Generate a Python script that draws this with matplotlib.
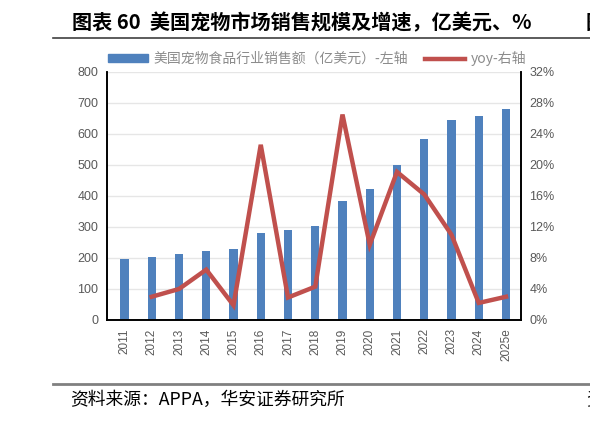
import matplotlib
matplotlib.use("Agg")
import matplotlib.pyplot as plt
from matplotlib.lines import Line2D
from matplotlib.patches import Patch

plt.rcParams['font.family'] = ['Noto Sans CJK SC', 'DejaVu Sans']

years = ["2011", "2012", "2013", "2014", "2015", "2016", "2017", "2018",
         "2019", "2020", "2021", "2022", "2023", "2024", "2025e"]
sales = [197, 203, 212, 224, 229, 282, 290, 302, 384, 421, 500, 583, 645, 659, 679]
yoy_years = years[1:]
yoy = [3.0, 4.0, 6.5, 1.9, 22.6, 2.9, 4.3, 26.5, 9.7, 19.1, 16.2, 11.0, 2.2, 3.0]

left_ticks = [0, 100, 200, 300, 400, 500, 600, 700, 800]
right_ticks = [0, 4, 8, 12, 16, 20, 24, 28, 32]

title = "图表 60  美国宠物市场销售规模及增速，亿美元、%"
source = "资料来源：APPA，华安证券研究所"
bar_label = "美国宠物食品行业销售额（亿美元）-左轴"
line_label = "yoy-右轴"

bar_color = "#4F81BD"
line_color = "#C0504D"
tick_color = "#595959"

fig = plt.figure(figsize=(5.9, 4.23), dpi=100)
ax = fig.add_axes([0.181, 0.2435, 0.702, 0.5865])
x = list(range(len(years)))
ax.bar(x, sales, width=0.3, color=bar_color, zorder=2)
ax.set_ylim(0, 800)
ax.set_xlim(-0.65, len(years) - 0.45)
ax.set_yticks(left_ticks)
ax.set_xticks(x)
ax.set_xticklabels(years, rotation=90, fontsize=8.5, color=tick_color, family=['Liberation Sans', 'DejaVu Sans'])
ax.tick_params(axis='y', labelsize=9, colors=tick_color, length=0, pad=6)
ax.tick_params(axis='x', length=0, pad=6)
for lab in ax.get_yticklabels():
    lab.set_family(['Liberation Sans', 'DejaVu Sans'])
ax.grid(axis='y', color='#E6E6E6', linewidth=1, zorder=0)
ax.set_axisbelow(True)
for s in ['left', 'bottom', 'right']:
    ax.spines[s].set_color('black')
    ax.spines[s].set_linewidth(1.2)
ax.spines['top'].set_visible(False)

ax2 = ax.twinx()
xi = [years.index(y) for y in yoy_years]
ax2.plot(xi, yoy, color=line_color, linewidth=3.2, zorder=3, solid_joinstyle='miter')
ax2.set_ylim(0, 32)
ax2.set_yticks(right_ticks)
ax2.set_yticklabels([f"{t}%" for t in right_ticks], family=['Liberation Sans', 'DejaVu Sans'])
ax2.tick_params(axis='y', labelsize=9, colors=tick_color, length=0, pad=6)
for s in ['left', 'bottom', 'right']:
    ax2.spines[s].set_color('black')
    ax2.spines[s].set_linewidth(1.2)
ax2.spines['top'].set_visible(False)

handles = [Patch(color=bar_color), Line2D([0], [0], color=line_color, linewidth=3.2)]
leg = fig.legend(handles, [bar_label, line_label], ncol=2, frameon=False,
                 loc='center', bbox_to_anchor=(0.537, 0.862), fontsize=10,
                 handlelength=2.9, handleheight=0.45, columnspacing=1.2, handletextpad=0.4)
for t in leg.get_texts():
    t.set_color('#8C8C8C')

fig.text(0.122, 0.946, title, fontsize=14.5, fontweight='bold', va='center', ha='left')
fig.text(0.993, 0.946, "图", fontsize=14.5, fontweight='bold', va='center', ha='left')
fig.add_artist(Line2D([0.09, 1.0], [0.909, 0.909], color='#404040', linewidth=1.2))
fig.add_artist(Line2D([0.09, 1.0], [0.092, 0.092], color='#808080', linewidth=2))
fig.text(0.118, 0.054, source, fontsize=12.8, va='center', ha='left')
fig.text(0.993, 0.054, "资", fontsize=12.8, va='center', ha='left')

fig.savefig("out.png", dpi=100)
